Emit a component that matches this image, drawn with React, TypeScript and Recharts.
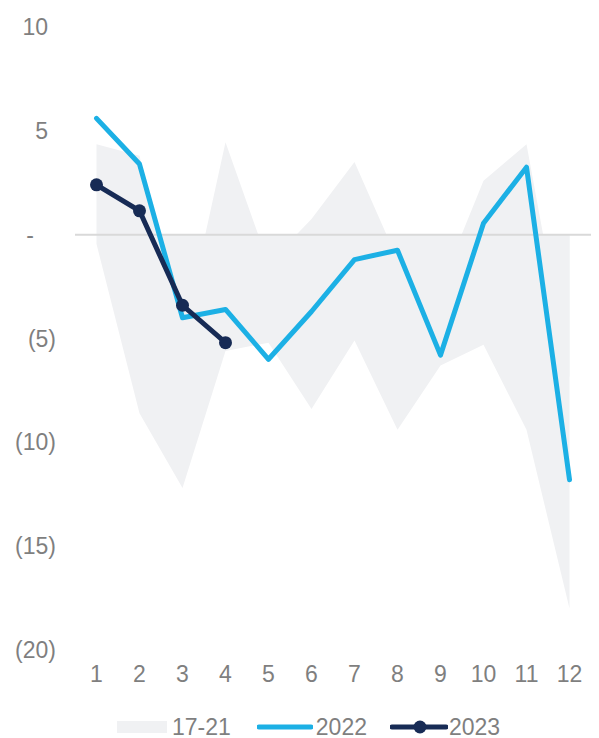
import React from "react";
import { ComposedChart, Area, Line, XAxis, YAxis, ReferenceLine } from "recharts";

const months = [1, 2, 3, 4, 5, 6, 7, 8, 9, 10, 11, 12];
// 17-21 band: each edge is filled to zero (Excel style)
const rangeHigh = [4.35, 3.8, -5.0, 4.45, -1.4, 0.75, 3.5, -1.2, -2.5, 2.6, 4.35, -6.9];
const rangeLow = [-0.45, -8.6, -12.2, -5.6, -5.2, -8.4, -5.1, -9.4, -6.3, -5.3, -9.4, -18.0];
const y2022 = [5.6, 3.4, -4.0, -3.6, -6.0, -3.7, -1.2, -0.75, -5.8, 0.55, 3.25, -11.8];
const y2023 = [2.4, 1.15, -3.4, -5.2];
const yTicks = [10, 5, 0, -5, -10, -15, -20];

const data = months.map((m, i) => ({
  m,
  high: rangeHigh[i],
  low: rangeLow[i],
  y2022: y2022[i],
  y2023: i < y2023.length ? y2023[i] : null,
}));

const FONT = '"Liberation Sans", Arial, sans-serif';
const TEXT = "#7f7f7f";
const GREY = "#f0f1f3";
const BLUE = "#1cb0e5";
const NAVY = "#172b55";
const FS = 23;

const YTick = (props: any) => {
  const { y, payload } = props;
  const v = payload.value;
  let label = "-";
  let endX = 34;
  if (v > 0) {
    label = `${v}`;
    endX = 48;
  } else if (v < 0) {
    label = `(${-v})`;
    endX = 56;
  }
  return (
    <text x={endX} y={y} dy="0.35em" textAnchor="end" fill={TEXT} fontSize={FS} fontFamily={FONT}>
      {label}
    </text>
  );
};

export default function App() {
  return (
    <div style={{ position: "absolute", left: 0, top: 0, width: 599, height: 738, background: "#fff", fontFamily: FONT }}>
      <ComposedChart width={599} height={700} data={data} margin={{ top: 27, right: 8, bottom: 0, left: 0 }}>
        <XAxis
          dataKey="m"
          axisLine={false}
          tickLine={false}
          padding={{ left: 21.5, right: 21.5 }}
          height={50}
          tick={{ fontSize: FS, fill: TEXT, fontFamily: FONT }}
          tickMargin={10}
          interval={0}
        />
        <YAxis
          domain={[-20, 10]}
          ticks={yTicks}
          interval={0}
          axisLine={false}
          tickLine={false}
          width={75}
          tick={<YTick />}
        />
        <Area dataKey="high" type="linear" stroke="none" fill={GREY} fillOpacity={1} isAnimationActive={false} />
        <Area dataKey="low" type="linear" stroke="none" fill={GREY} fillOpacity={1} isAnimationActive={false} />
        <ReferenceLine y={0} stroke="#d9d9d9" strokeWidth={2} />
        <Line dataKey="y2022" type="linear" stroke={BLUE} strokeWidth={5} dot={false} strokeLinejoin="round" strokeLinecap="round" isAnimationActive={false} />
        <Line
          dataKey="y2023"
          type="linear"
          stroke={NAVY}
          strokeWidth={5}
          dot={{ r: 6.5, fill: NAVY, stroke: NAVY, strokeWidth: 0 }}
          activeDot={false}
          connectNulls={false}
          isAnimationActive={false}
        />
      </ComposedChart>
      <div style={{ position: "absolute", left: 117, top: 713, height: 28, display: "flex", alignItems: "center", fontSize: FS, color: TEXT }}>
        <svg width={50} height={12} style={{ marginRight: 5 }}>
          <rect x={0} y={0} width={50} height={12} fill={GREY} />
        </svg>
        <span style={{ marginRight: 26 }}>17-21</span>
        <svg width={56} height={12} style={{ marginRight: 3 }}>
          <line x1={2} y1={6} x2={54} y2={6} stroke={BLUE} strokeWidth={5} strokeLinecap="round" />
        </svg>
        <span style={{ marginRight: 23 }}>2022</span>
        <svg width={58} height={14} style={{ marginRight: 1 }}>
          <line x1={2} y1={7} x2={56} y2={7} stroke={NAVY} strokeWidth={5} strokeLinecap="round" />
          <circle cx={30} cy={7} r={6.5} fill={NAVY} />
        </svg>
        <span>2023</span>
      </div>
    </div>
  );
}
